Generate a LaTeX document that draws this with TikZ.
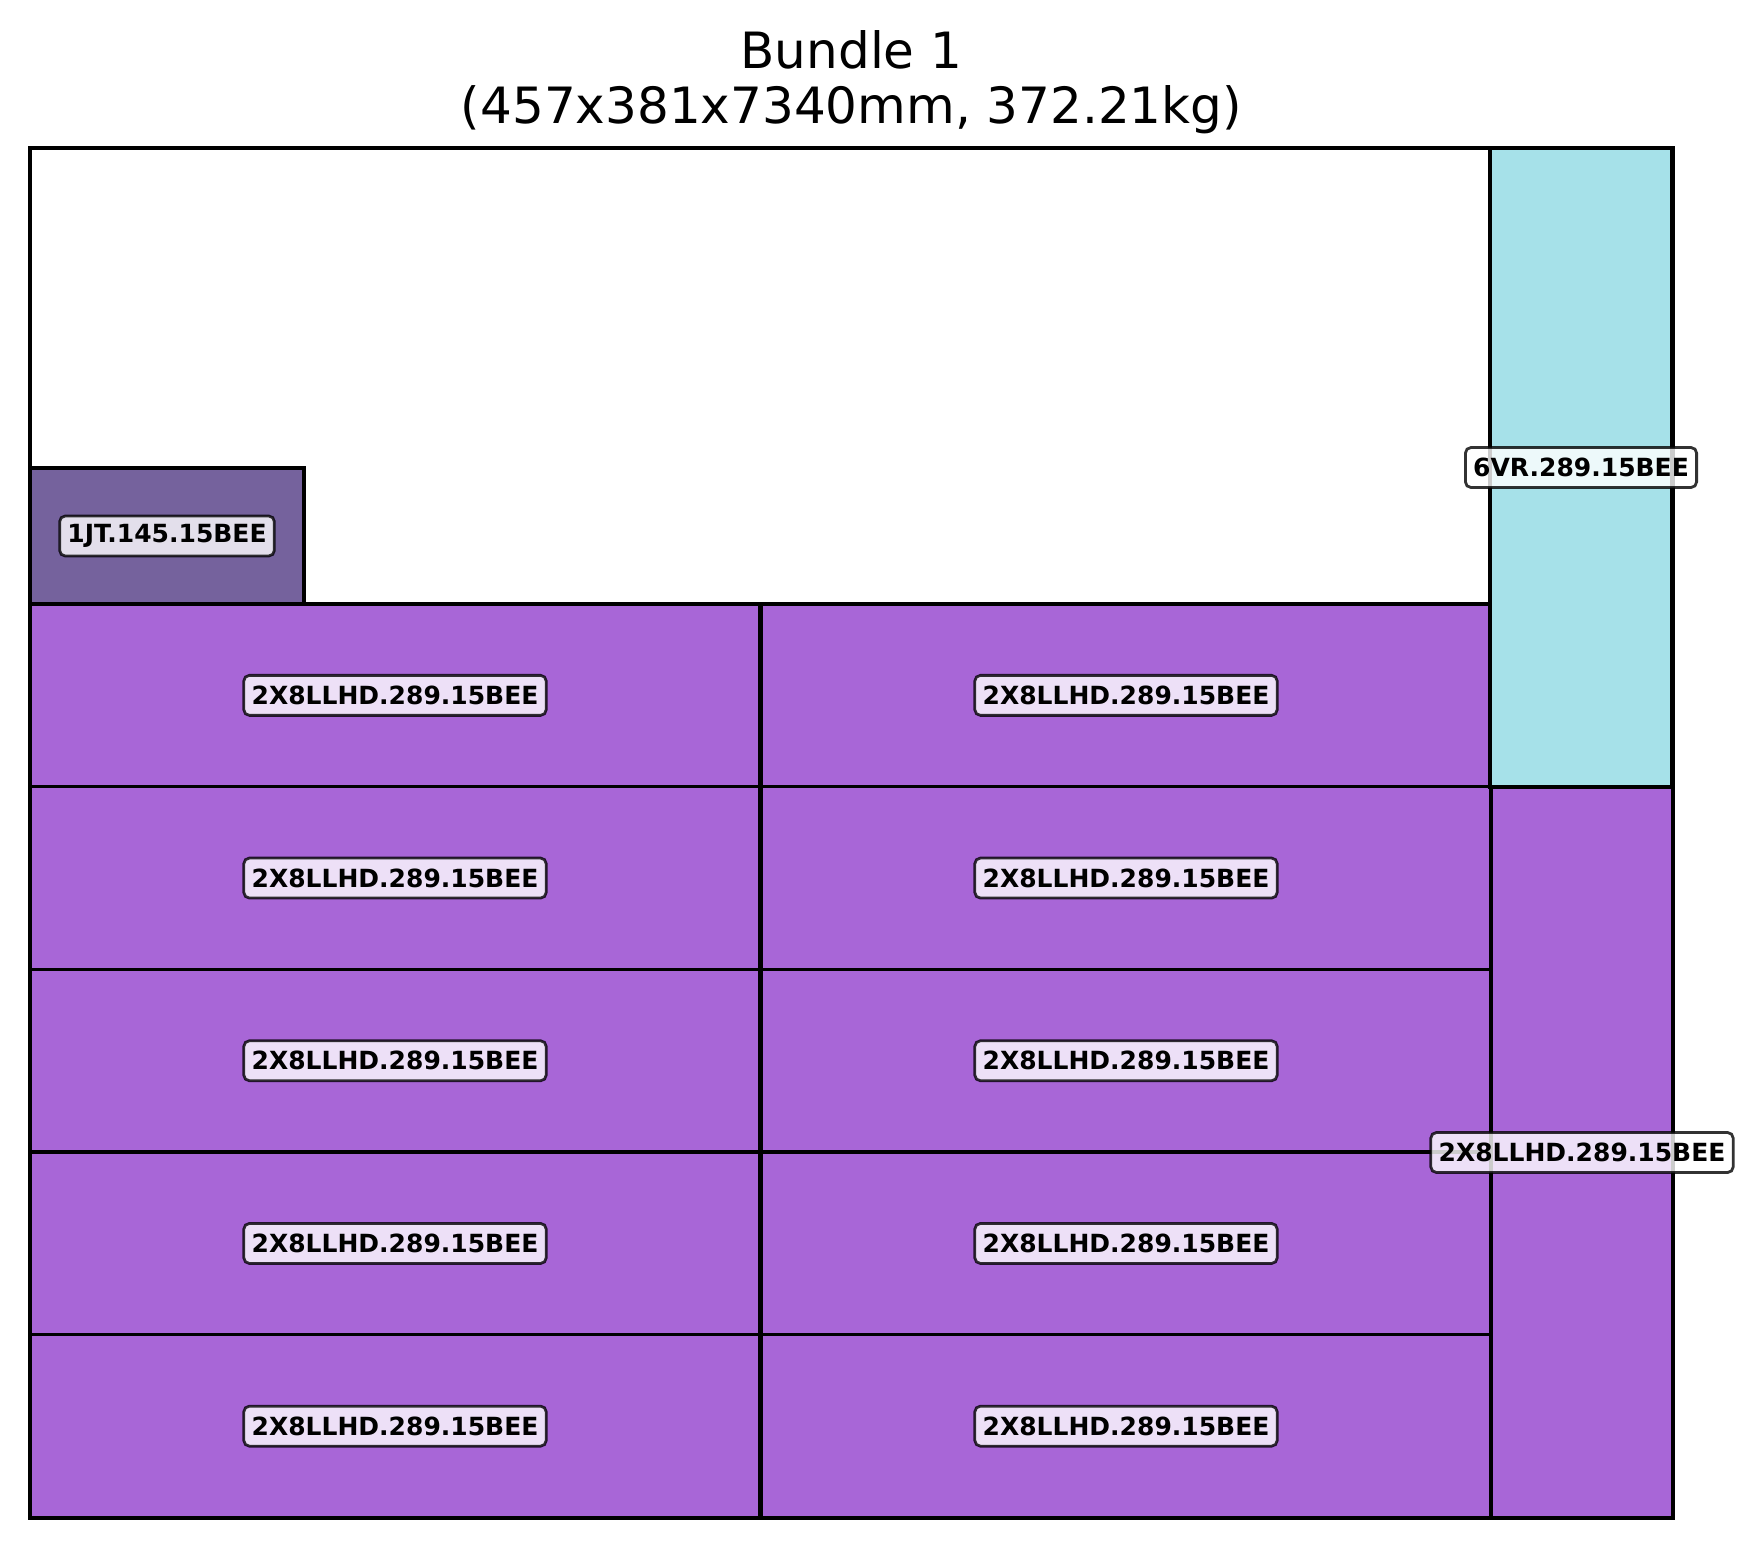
\documentclass[tikz,border=0pt]{standalone}
\usepackage{fontspec}
\setmainfont{DejaVu Sans}
\definecolor{itemfill}{HTML}{A866D7}
\definecolor{smallfill}{HTML}{75629D}
\definecolor{tallfill}{HTML}{A6E1E9}

\begin{document}
\begin{tikzpicture}[
  x=0.36pt, y=-0.36pt,
  piece/.style={draw=black, line width=1.2pt},
  tag/.style={draw=black, draw opacity=0.8, fill=white, fill opacity=0.8, text opacity=1, line width=1pt, rounded corners=2pt, font=\fontsize{9}{10}\selectfont\bfseries, minimum height=14.4pt, inner xsep=2.8pt, inner ysep=0pt},
  heading/.style={font=\fontsize{18}{21}\selectfont, anchor=base}
]
\useasboundingbox (0,0) rectangle (1755,1548);
% title
\node[heading] (title) at (851.5,68) {Bundle 1};
\node[heading] (size) at (851.5,123) {(457x381x7340mm, 372.21kg)};
% bundle outline
\draw[piece] (30,148) rectangle (1673,1518);
% two columns of 2x8 pieces
\foreach \col/\cx in {0/30, 1/761} {
  \foreach \row in {0,...,4} {
    \pgfmathsetmacro\ty{604+182.7*\row}
    \pgfmathsetmacro\mx{\cx+365}
    \pgfmathsetmacro\my{\ty+91.35}
    \draw[piece, fill=itemfill] (\cx,\ty) rectangle ++(730,182.7);
    \node[tag] (lhd-\col-\row) at (\mx,\my) {2X8LLHD.289.15BEE};
  }
}
% small piece on top
\draw[piece, fill=smallfill] (30,468) rectangle (304,604);
\node[tag] (jt) at (167,536) {1JT.145.15BEE};
% upright pieces on the right
\draw[piece, fill=tallfill] (1490,148) rectangle (1672,787);
\node[tag] (vr) at (1581,467.5) {6VR.289.15BEE};
\draw[piece, fill=itemfill] (1491,787) rectangle (1673,1518);
\node[tag] (lhd-side) at (1582,1152.5) {2X8LLHD.289.15BEE};
\end{tikzpicture}
\end{document}
